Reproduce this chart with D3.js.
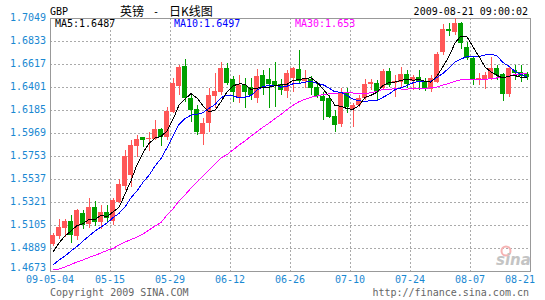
<!DOCTYPE html>
<html>
<head>
<meta charset="utf-8">
<script src="https://cdn.jsdelivr.net/npm/d3@7"></script>
<style>
  body { margin: 0; background: #fff; }
  text { font-family: "DejaVu Sans Mono", monospace; font-size: 10px; }
</style>
</head>
<body>
<div id="chart"></div>
<script>
// GBP daily K-line, 2009-05-04 .. 2009-08-21 (80 trading days)
const open = [1.4929,1.5004,1.5080,1.5142,1.5004,1.5218,1.5117,1.5274,1.5136,1.5224,
  1.5142,1.5324,1.5471,1.5575,1.5847,1.5931,1.5910,1.5913,1.6007,1.5929,
  1.6163,1.6413,1.6598,1.6295,1.6194,1.5960,1.6066,1.6319,1.6357,1.6582,
  1.6473,1.6295,1.6420,1.6404,1.6295,1.6514,1.6476,1.6457,1.6426,1.6363,
  1.6488,1.6570,1.6457,1.6476,1.6401,1.6316,1.6300,1.6131,1.6054,1.6351,
  1.6192,1.6232,1.6295,1.6426,1.6439,1.6389,1.6554,1.6436,1.6448,1.6523,
  1.6457,1.6492,1.6451,1.6379,1.6451,1.6732,1.6943,1.6920,1.7005,1.6779,
  1.6671,1.6467,1.6467,1.6483,1.6577,1.6523,1.6332,1.6561,1.6545,1.6523];
const high = [1.5030,1.5161,1.5161,1.5199,1.5255,1.5246,1.5359,1.5330,1.5293,1.5293,
  1.5356,1.5534,1.5809,1.5903,1.5950,1.5936,1.5976,1.6091,1.6019,1.6216,
  1.6486,1.6608,1.6664,1.6326,1.6232,1.6107,1.6389,1.6530,1.6633,1.6624,
  1.6507,1.6514,1.6488,1.6483,1.6567,1.6561,1.6577,1.6633,1.6476,1.6561,
  1.6592,1.6748,1.6561,1.6504,1.6436,1.6357,1.6326,1.6185,1.6389,1.6389,
  1.6248,1.6326,1.6473,1.6476,1.6467,1.6570,1.6577,1.6514,1.6592,1.6561,
  1.6514,1.6561,1.6483,1.6514,1.6732,1.6993,1.6999,1.7046,1.7014,1.6826,
  1.6680,1.6530,1.6545,1.6686,1.6608,1.6530,1.6592,1.6608,1.6608,1.6545];
const low = [1.4908,1.4974,1.4995,1.4939,1.4964,1.5067,1.5077,1.5096,1.5067,1.5133,
  1.5105,1.5309,1.5434,1.5465,1.5746,1.5835,1.5803,1.5903,1.5850,1.5903,
  1.6154,1.6326,1.6263,1.6075,1.5950,1.5856,1.5981,1.6201,1.6326,1.6420,
  1.6263,1.6248,1.6201,1.6279,1.6248,1.6326,1.6201,1.6216,1.6326,1.6295,
  1.6357,1.6426,1.6389,1.6326,1.6300,1.6091,1.6107,1.5981,1.6028,1.6154,
  1.6028,1.6216,1.6279,1.6373,1.6279,1.6373,1.6404,1.6310,1.6404,1.6394,
  1.6373,1.6373,1.6366,1.6357,1.6436,1.6702,1.6880,1.6889,1.6755,1.6655,
  1.6420,1.6420,1.6379,1.6467,1.6467,1.6272,1.6310,1.6467,1.6451,1.6467];
const close = [1.5011,1.5086,1.5142,1.5011,1.5246,1.5108,1.5274,1.5136,1.5224,1.5168,
  1.5340,1.5490,1.5753,1.5856,1.5913,1.5906,1.5922,1.6007,1.5934,1.6178,
  1.6441,1.6592,1.6295,1.6185,1.5976,1.6066,1.6326,1.6363,1.6582,1.6436,
  1.6351,1.6420,1.6351,1.6326,1.6504,1.6389,1.6426,1.6413,1.6373,1.6530,
  1.6577,1.6457,1.6476,1.6394,1.6316,1.6269,1.6116,1.6044,1.6351,1.6210,
  1.6232,1.6295,1.6429,1.6451,1.6354,1.6554,1.6420,1.6460,1.6523,1.6429,
  1.6492,1.6451,1.6379,1.6483,1.6708,1.6946,1.6930,1.7005,1.6811,1.6671,
  1.6467,1.6483,1.6514,1.6577,1.6514,1.6335,1.6577,1.6535,1.6504,1.6492];

// moving averages as drawn
const ma5 = [1.4851,1.4936,1.5002,1.5049,1.5099,1.5119,1.5156,1.5155,1.5198,1.5182,
  1.5228,1.5272,1.5395,1.5521,1.5670,1.5784,1.5870,1.5921,1.5936,1.5989,
  1.6097,1.6230,1.6288,1.6338,1.6298,1.6223,1.6169,1.6183,1.6263,1.6355,
  1.6412,1.6430,1.6428,1.6377,1.6390,1.6398,1.6399,1.6412,1.6421,1.6426,
  1.6464,1.6470,1.6483,1.6487,1.6444,1.6383,1.6315,1.6228,1.6220,1.6198,
  1.6191,1.6227,1.6304,1.6323,1.6352,1.6417,1.6442,1.6448,1.6462,1.6477,
  1.6465,1.6471,1.6455,1.6447,1.6503,1.6593,1.6689,1.6814,1.6880,1.6872,
  1.6777,1.6687,1.6589,1.6542,1.6511,1.6484,1.6503,1.6508,1.6493,1.6487];
const ma10 = [1.4729,1.4776,1.4814,1.4861,1.4903,1.4955,1.5002,1.5049,1.5086,1.5124,
  1.5174,1.5214,1.5275,1.5360,1.5426,1.5506,1.5571,1.5658,1.5729,1.5830,
  1.5940,1.6050,1.6104,1.6137,1.6144,1.6160,1.6200,1.6236,1.6300,1.6326,
  1.6317,1.6300,1.6306,1.6320,1.6373,1.6405,1.6415,1.6420,1.6399,1.6408,
  1.6431,1.6435,1.6447,1.6454,1.6435,1.6423,1.6392,1.6355,1.6353,1.6321,
  1.6287,1.6271,1.6266,1.6272,1.6275,1.6304,1.6334,1.6376,1.6393,1.6415,
  1.6441,1.6456,1.6451,1.6455,1.6490,1.6529,1.6580,1.6635,1.6663,1.6688,
  1.6685,1.6688,1.6702,1.6711,1.6692,1.6631,1.6595,1.6548,1.6518,1.6497];
const ma30 = [1.4687,1.4692,1.4711,1.4734,1.4758,1.4776,1.4800,1.4819,1.4842,1.4866,
  1.4884,1.4917,1.4945,1.4969,1.4992,1.5020,1.5058,1.5096,1.5128,1.5199,
  1.5255,1.5330,1.5387,1.5452,1.5509,1.5565,1.5622,1.5678,1.5734,1.5766,
  1.5810,1.5855,1.5895,1.5939,1.5981,1.6023,1.6062,1.6104,1.6143,1.6188,
  1.6229,1.6262,1.6286,1.6304,1.6317,1.6329,1.6336,1.6337,1.6351,1.6352,
  1.6345,1.6335,1.6339,1.6348,1.6361,1.6377,1.6380,1.6384,1.6382,1.6381,
  1.6386,1.6387,1.6388,1.6393,1.6400,1.6419,1.6435,1.6455,1.6470,1.6475,
  1.6471,1.6472,1.6473,1.6479,1.6486,1.6488,1.6503,1.6520,1.6525,1.6530];

const yTicks = [1.7049,1.6833,1.6617,1.6401,1.6185,1.5969,1.5753,1.5537,1.5321,1.5105,1.4889,1.4673];
const xTickLabels = ["09-05-04","05-15","05-29","06-12","06-26","07-10","07-24","08-07","08-21"];
const xTickIndex = [0,10,20,30,40,50,60,70,80];

const width = 545, height = 300;
const plotLeft = 50, plotRight = 530, plotTop = 18, plotBottom = 271;
const upColor = "#ff5757", downColor = "#00a000";
const labelBlue = "#1a88d2";

const svg = d3.select("#chart").append("svg")
  .attr("width", width)
  .attr("height", height);

const x = d3.scaleLinear().domain([0, close.length]).range([plotLeft, plotRight]);
const y = d3.scaleLinear().domain([yTicks[yTicks.length - 1], yTicks[0]]).range([plotBottom, plotTop]);
const slot = x(1) - x(0);

// grid
svg.append("g").selectAll("line")
  .data(yTicks.slice(1, -1))
  .enter().append("line")
  .attr("x1", plotLeft).attr("x2", plotRight)
  .attr("y1", d => Math.round(y(d)) + 0.5).attr("y2", d => Math.round(y(d)) + 0.5)
  .attr("stroke", "#aaa").attr("stroke-dasharray", "2,2");
svg.append("g").selectAll("line")
  .data(xTickIndex.slice(1, -1))
  .enter().append("line")
  .attr("y1", plotTop).attr("y2", plotBottom)
  .attr("x1", d => x(d) + 0.5).attr("x2", d => x(d) + 0.5)
  .attr("stroke", "#aaa").attr("stroke-dasharray", "2,2");

// frame
svg.append("rect")
  .attr("x", plotLeft + 0.5).attr("y", plotTop + 0.5)
  .attr("width", plotRight - plotLeft).attr("height", plotBottom - plotTop)
  .attr("fill", "none").attr("stroke", "#999");

// sina watermark
svg.append("circle").attr("cx", 506).attr("cy", 251).attr("r", 4.5)
  .attr("fill", "none").attr("stroke", "#f6b3b3").attr("stroke-width", 2);
svg.append("text").attr("x", 496).attr("y", 265)
  .style("font-family", "DejaVu Sans").style("font-size", "15px")
  .style("font-weight", "bold").style("font-style", "italic")
  .attr("fill", "#c4c4c4").text("sina");

// candles
const idx = d3.range(close.length);
const candles = svg.append("g").attr("shape-rendering", "crispEdges")
  .selectAll("g").data(idx).enter().append("g");
candles.append("rect")
  .attr("x", i => x(i) + Math.floor(slot / 2))
  .attr("width", 1)
  .attr("y", i => Math.round(y(high[i])))
  .attr("height", i => Math.max(1, Math.round(y(low[i])) - Math.round(y(high[i]))))
  .attr("fill", i => close[i] >= open[i] ? upColor : downColor);
candles.append("rect")
  .attr("x", i => x(i))
  .attr("width", slot - 1)
  .attr("y", i => Math.round(y(Math.max(open[i], close[i]))))
  .attr("height", i => Math.max(1, Math.round(y(Math.min(open[i], close[i]))) - Math.round(y(Math.max(open[i], close[i])))))
  .attr("fill", i => close[i] >= open[i] ? upColor : downColor);

// moving averages (pixel look like the original)
const maLine = d3.line().x((d, i) => x(i) + slot / 2).y(d => y(d));
[[ma30, "#ff00ff"], [ma10, "#0000ff"], [ma5, "#000000"]].forEach(([s, c]) => {
  svg.append("path").datum(s).attr("d", maLine)
    .attr("fill", "none").attr("stroke", c).attr("stroke-width", 1)
    .attr("shape-rendering", "crispEdges");
});

// y labels
svg.append("g").selectAll("text")
  .data(yTicks).enter().append("text")
  .attr("x", 46)
  .attr("y", (d, i) => y(d) + (i === yTicks.length - 1 ? 0 : 3))
  .attr("text-anchor", "end")
  .attr("fill", labelBlue)
  .text(d => d.toFixed(4));

// x labels
svg.append("g").selectAll("text")
  .data(xTickLabels).enter().append("text")
  .attr("x", (d, i) => i === xTickLabels.length - 1 ? 535 : x(xTickIndex[i]))
  .attr("y", 283)
  .attr("text-anchor", (d, i) => i === xTickLabels.length - 1 ? "end" : "middle")
  .attr("fill", labelBlue)
  .text(d => d);

// header
svg.append("text").attr("x", 50).attr("y", 15).attr("fill", "#000").text("GBP");
svg.append("text").attr("x", 120).attr("y", 16)
  .style("font-family", "'Noto Sans CJK SC'").style("font-size", "12px")
  .attr("fill", "#000").text("英镑");
svg.append("text").attr("x", 156).attr("y", 15).attr("text-anchor", "middle")
  .attr("fill", "#000").text("-");
svg.append("text").attr("x", 169).attr("y", 16)
  .style("font-family", "'Noto Sans CJK SC'").style("font-size", "12px")
  .attr("fill", "#000").text("日K线图");
svg.append("text").attr("x", 528).attr("y", 15).attr("text-anchor", "end")
  .attr("fill", "#000").text("2009-08-21 09:00:02");

// legend
const legend = [["MA5:", ma5, "#000", 55], ["MA10:", ma10, "#0000ff", 174], ["MA30:", ma30, "#ff00ff", 295]];
legend.forEach(([name, s, c, lx]) => {
  const v = s[s.length - 1];
  svg.append("text").attr("x", lx).attr("y", 27).attr("fill", c)
    .text(name + (+v.toFixed(4)));
});

// footer
svg.append("text").attr("x", 50).attr("y", 296).attr("fill", "#666").text("Copyright 2009 SINA.COM");
svg.append("text").attr("x", 529).attr("y", 296).attr("text-anchor", "end")
  .attr("fill", "#666").text("http://finance.sina.com.cn");
</script>
</body>
</html>
